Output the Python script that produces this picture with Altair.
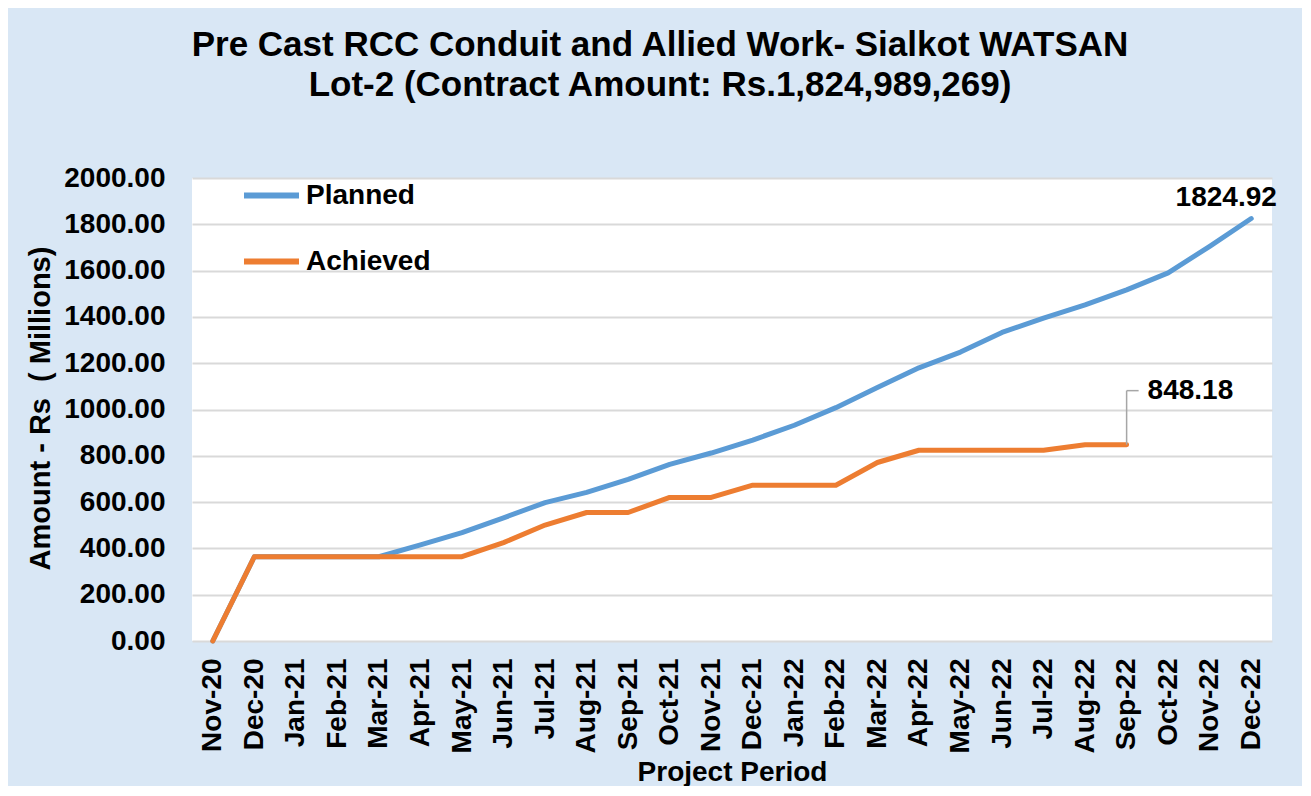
import altair as alt
import pandas as pd

months = ["Nov-20", "Dec-20", "Jan-21", "Feb-21", "Mar-21", "Apr-21", "May-21",
          "Jun-21", "Jul-21", "Aug-21", "Sep-21", "Oct-21", "Nov-21", "Dec-21",
          "Jan-22", "Feb-22", "Mar-22", "Apr-22", "May-22", "Jun-22", "Jul-22",
          "Aug-22", "Sep-22", "Oct-22", "Nov-22", "Dec-22"]
planned = [0, 364, 364, 364, 364, 415, 468, 532, 598, 642, 698, 763, 812, 868,
           932, 1008, 1095, 1180, 1248, 1333, 1395, 1452, 1517, 1590, 1705, 1824.92]
achieved = [0, 364, 364, 364, 364, 364, 364, 425, 501, 555, 555, 620, 620, 673,
            673, 673, 771, 824, 824, 824, 824, 848, 848.18]
series_names = ["Planned", "Achieved"]
colors = ["#5b9bd5", "#ed7d31"]

rows = []
for m, v in zip(months, planned):
    rows.append({"month": m, "series": "Planned", "value": v})
for m, v in zip(months, achieved):
    rows.append({"month": m, "series": "Achieved", "value": v})
df = pd.DataFrame(rows)

FONT = "Liberation Sans"

x_enc = alt.X("month:O", sort=months,
              scale=alt.Scale(type="point", padding=0.5),
              axis=alt.Axis(title="Project Period", labelAngle=270, labelAlign="right",
                            labelBaseline="middle", labelPadding=17, ticks=False,
                            domain=False, grid=False, labelFontSize=28,
                            labelFontWeight="bold", labelColor="black",
                            titleFontSize=28, titleFontWeight="bold", titleColor="black",
                            titleY=131, titleBaseline="middle", labelFont=FONT,
                            titleFont=FONT))
y_enc = alt.Y("value:Q", scale=alt.Scale(domain=[0, 2000], nice=False),
              axis=alt.Axis(title="Amount - Rs \u00a0( Millions)", values=list(range(0, 2001, 200)),
                            format=".2f", ticks=False, domain=False, labelPadding=27,
                            labelFontSize=28, labelFontWeight="bold", labelColor="black",
                            titleFontSize=29, titleFontWeight="bold", titleColor="black",
                            titleX=-152, titleY=230, titleAngle=270, titleAlign="center",
                            titleBaseline="middle", gridColor="#d9d9d9", gridWidth=2,
                            labelFont=FONT, titleFont=FONT))
color_enc = alt.Color("series:N", scale=alt.Scale(domain=series_names, range=colors),
                      legend=alt.Legend(title=None, orient="none", legendX=49, legendY=-13,
                                        symbolType="stroke", symbolSize=3025,
                                        symbolStrokeWidth=6, labelFontSize=28,
                                        labelFontWeight="bold", labelColor="black",
                                        labelFont=FONT, rowPadding=21, padding=0,
                                        labelOffset=4, direction="vertical"))

base = alt.Chart(df)

planned_line = base.transform_filter(alt.datum.series == "Planned").mark_line(
    strokeWidth=5, strokeCap="round", strokeJoin="round").encode(x=x_enc, y=y_enc, color=color_enc)
achieved_line = base.transform_filter(alt.datum.series == "Achieved").mark_line(
    strokeWidth=5, strokeCap="round", strokeJoin="round").encode(x=x_enc, y=y_enc, color=color_enc)

last_planned = base.transform_filter(
    (alt.datum.series == "Planned") & (alt.datum.month == months[-1]))
last_achieved = base.transform_filter(
    (alt.datum.series == "Achieved") & (alt.datum.month == months[len(achieved) - 1]))

planned_label = last_planned.mark_text(
    font=FONT, fontSize=28, fontWeight="bold", color="black", align="center",
    baseline="middle", dx=-25, dy=-21).encode(
    x=alt.X("month:O", sort=months), y="value:Q", text=alt.Text("value:Q", format=".2f"))

achieved_label = last_achieved.mark_text(
    font=FONT, fontSize=28, fontWeight="bold", color="black", align="left",
    baseline="middle", dx=21, dy=-54).encode(
    x=alt.X("month:O", sort=months), y="value:Q", text=alt.Text("value:Q", format=".2f"))

leader_v = last_achieved.mark_rule(color="#a6a6a6", strokeWidth=1.5, y2Offset=-54).encode(
    x=alt.X("month:O", sort=months), y="value:Q", y2="value:Q")
leader_h = last_achieved.mark_rule(color="#a6a6a6", strokeWidth=1.5, x2Offset=12,
                                   yOffset=-54).encode(
    x=alt.X("month:O", sort=months), x2="month:O", y="value:Q")

chart = alt.layer(planned_line, achieved_line, leader_v, leader_h, planned_label,
                  achieved_label).properties(
    width=1080, height=463,
    autosize=alt.AutoSizeParams(type="none"),
    padding={"left": 184, "top": 170, "right": 30, "bottom": 145},
    background="#d9e7f5",
    title=alt.TitleParams(
        text=["Pre Cast RCC Conduit and Allied Work- Sialkot WATSAN",
              "Lot-2 (Contract Amount: Rs.1,824,989,269)"],
        font=FONT, fontSize=35, fontWeight="bold", color="black", lineHeight=40,
        anchor="middle", frame="group", dx=-72, offset=61),
).configure_view(fill="white", stroke=None)

chart.save("out.html", embed_options={"renderer": "svg", "actions": False})
